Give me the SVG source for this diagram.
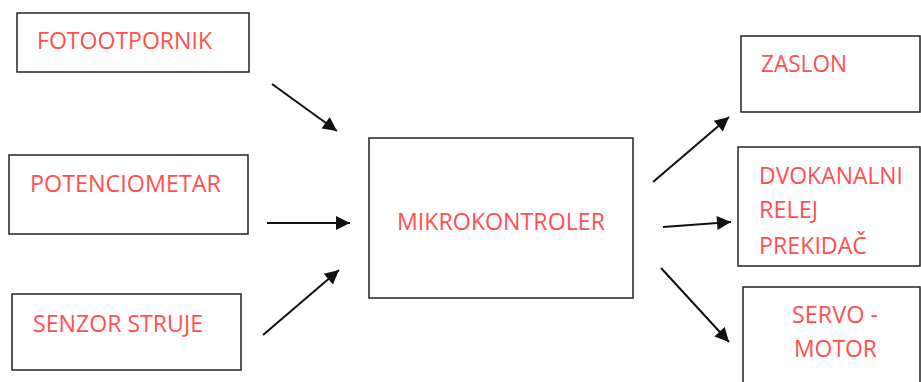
<svg xmlns="http://www.w3.org/2000/svg" width="921" height="382" viewBox="0 0 921 382">
<defs>
<style>
.box{fill:#fff;stroke:#222;stroke-width:1.5}
.lbl{font-family:"Open Sans","Liberation Sans",sans-serif;font-size:23px;fill:#ff5050}
.con{stroke:#111;stroke-width:2;fill:none;marker-end:url(#ah)}
</style>
<marker id="ah" viewBox="0 0 10 10" refX="10" refY="5" markerWidth="8" markerHeight="7" markerUnits="strokeWidth" orient="auto">
<path d="M0,0 L10,5 L0,10 z" fill="#111"/>
</marker>
</defs>
<rect width="921" height="382" fill="#fff"/>
<g id="fotootpornik">
<rect class="box" x="17" y="13" width="232" height="59"/>
<text class="lbl" x="37" y="49" textLength="175" lengthAdjust="spacingAndGlyphs">FOTOOTPORNIK</text>
</g>
<g id="potenciometar">
<rect class="box" x="9" y="155" width="239" height="79"/>
<text class="lbl" x="30" y="192" textLength="191" lengthAdjust="spacingAndGlyphs">POTENCIOMETAR</text>
</g>
<g id="senzor">
<rect class="box" x="12" y="294" width="229" height="76"/>
<text class="lbl" x="33" y="332" textLength="170" lengthAdjust="spacingAndGlyphs">SENZOR STRUJE</text>
</g>
<g id="mikrokontroler">
<rect class="box" x="369" y="138" width="264" height="160"/>
<text class="lbl" x="397" y="230" textLength="208" lengthAdjust="spacingAndGlyphs">MIKROKONTROLER</text>
</g>
<g id="zaslon">
<rect class="box" x="741" y="36" width="179" height="76"/>
<text class="lbl" x="761" y="72" textLength="86" lengthAdjust="spacingAndGlyphs">ZASLON</text>
</g>
<g id="relej">
<rect class="box" x="738" y="147" width="182" height="119"/>
<text class="lbl" x="759" y="184" textLength="144" lengthAdjust="spacingAndGlyphs">DVOKANALNI</text>
<text class="lbl" x="759" y="218" textLength="59" lengthAdjust="spacingAndGlyphs">RELEJ</text>
<text class="lbl" x="759" y="254" textLength="108" lengthAdjust="spacingAndGlyphs">PREKIDAČ</text>
</g>
<g id="servo">
<rect class="box" x="743" y="287" width="177" height="100"/>
<text class="lbl" x="792" y="323" textLength="86" lengthAdjust="spacingAndGlyphs">SERVO -</text>
<text class="lbl" x="794" y="357" textLength="83" lengthAdjust="spacingAndGlyphs">MOTOR</text>
</g>
<g id="connectors">
<line class="con" x1="272" y1="84" x2="337" y2="131"/>
<line class="con" x1="267" y1="223" x2="350" y2="223"/>
<line class="con" x1="263" y1="335" x2="339" y2="270"/>
<line class="con" x1="653" y1="182" x2="729" y2="117"/>
<line class="con" x1="663" y1="227" x2="731" y2="222"/>
<line class="con" x1="661" y1="268" x2="729" y2="342"/>
</g>
</svg>
